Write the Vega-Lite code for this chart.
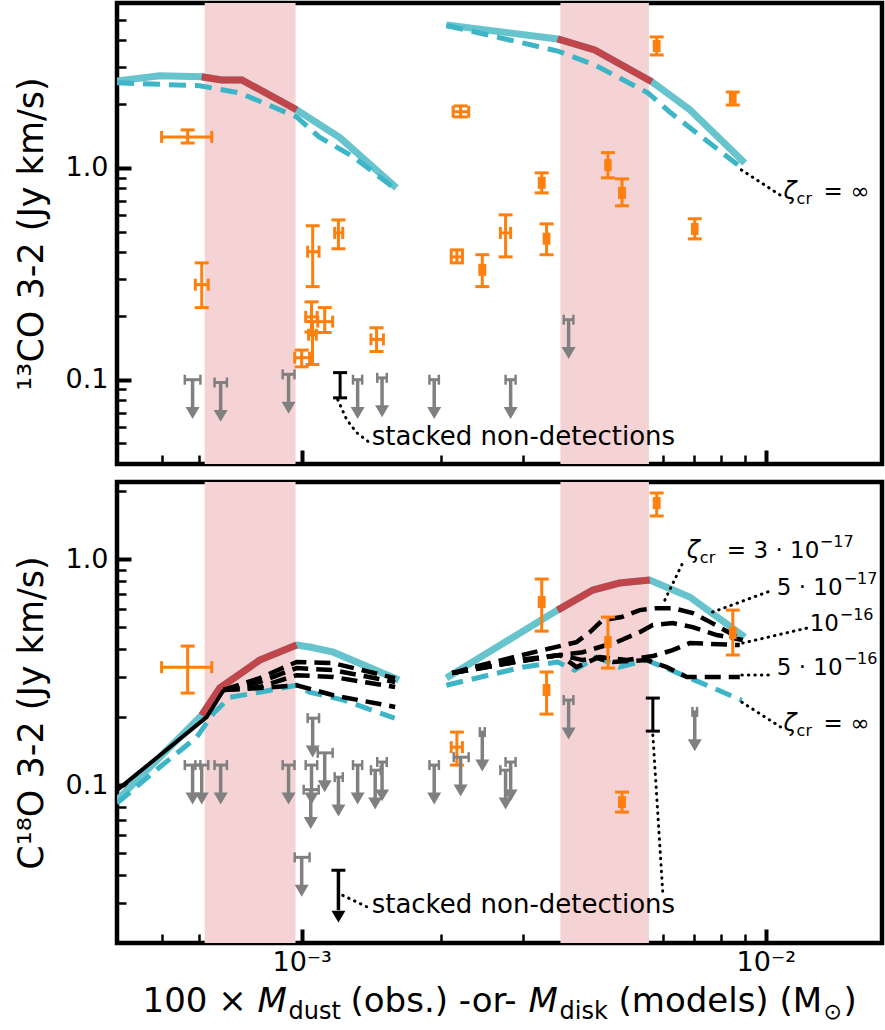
{
  "$schema": "https://vega.github.io/schema/vega-lite/v6.json",
  "padding": {"left": 11, "top": 0, "right": 0, "bottom": 4},
  "background": "white",
  "config": {
    "view": {"stroke": "black", "strokeWidth": 4.5},
    "font": "DejaVu Sans",
    "axis": {"domain": false, "grid": false, "tickColor": "black", "labelColor": "black", "labelFont": "DejaVu Sans", "labelFontSize": 27, "titleFont": "DejaVu Sans", "titleFontSize": 35, "titleFontWeight": "normal", "titleColor": "black", "labelOverlap": false, "labelFlush": false}
  },
  "spacing": 10,
  "datasets": {
    "bands": [{"x": 0.000618, "x2": 0.00097}, {"x": 0.00361, "x2": 0.0056}],
    "solid": [
      {"p": "t", "s": "L", "x": 0.0004, "y": 2.57}, {"p": "t", "s": "L", "x": 0.000494, "y": 2.72}, {"p": "t", "s": "L", "x": 0.000609, "y": 2.69}, {"p": "t", "s": "L", "x": 0.000672, "y": 2.6}, {"p": "t", "s": "L", "x": 0.000743, "y": 2.6}, {"p": "t", "s": "L", "x": 0.000975, "y": 1.88}, {"p": "t", "s": "L", "x": 0.00121, "y": 1.385}, {"p": "t", "s": "L", "x": 0.0016, "y": 0.805},
      {"p": "t", "s": "R", "x": 0.00205, "y": 4.73}, {"p": "t", "s": "R", "x": 0.00356, "y": 4.06}, {"p": "t", "s": "R", "x": 0.00428, "y": 3.6}, {"p": "t", "s": "R", "x": 0.00568, "y": 2.55}, {"p": "t", "s": "R", "x": 0.00686, "y": 1.88}, {"p": "t", "s": "R", "x": 0.00901, "y": 1.055},
      {"p": "b", "s": "L", "x": 0.0004, "y": 0.0858}, {"p": "b", "s": "L", "x": 0.000609, "y": 0.204}, {"p": "b", "s": "L", "x": 0.000666, "y": 0.269}, {"p": "b", "s": "L", "x": 0.000812, "y": 0.358}, {"p": "b", "s": "L", "x": 0.000975, "y": 0.417}, {"p": "b", "s": "L", "x": 0.00104, "y": 0.409}, {"p": "b", "s": "L", "x": 0.00117, "y": 0.388}, {"p": "b", "s": "L", "x": 0.00162, "y": 0.292},
      {"p": "b", "s": "R", "x": 0.00205, "y": 0.298}, {"p": "b", "s": "R", "x": 0.00356, "y": 0.596}, {"p": "b", "s": "R", "x": 0.00424, "y": 0.731}, {"p": "b", "s": "R", "x": 0.00484, "y": 0.785}, {"p": "b", "s": "R", "x": 0.00562, "y": 0.81}, {"p": "b", "s": "R", "x": 0.00686, "y": 0.681}, {"p": "b", "s": "R", "x": 0.00901, "y": 0.4525}
    ],
    "red": [
      {"p": "t", "s": "L", "x": 0.000609, "y": 2.69}, {"p": "t", "s": "L", "x": 0.000672, "y": 2.6}, {"p": "t", "s": "L", "x": 0.000743, "y": 2.6}, {"p": "t", "s": "L", "x": 0.000975, "y": 1.88},
      {"p": "t", "s": "R", "x": 0.00356, "y": 4.06}, {"p": "t", "s": "R", "x": 0.00428, "y": 3.6}, {"p": "t", "s": "R", "x": 0.00568, "y": 2.55},
      {"p": "b", "s": "L", "x": 0.000609, "y": 0.204}, {"p": "b", "s": "L", "x": 0.000666, "y": 0.269}, {"p": "b", "s": "L", "x": 0.000812, "y": 0.358}, {"p": "b", "s": "L", "x": 0.000975, "y": 0.417},
      {"p": "b", "s": "R", "x": 0.00356, "y": 0.596}, {"p": "b", "s": "R", "x": 0.00424, "y": 0.731}, {"p": "b", "s": "R", "x": 0.00484, "y": 0.785}, {"p": "b", "s": "R", "x": 0.00562, "y": 0.81}
    ],
    "dash": [
      {"p": "t", "s": "L", "x": 0.0004, "y": 2.52}, {"p": "t", "s": "L", "x": 0.000603, "y": 2.44}, {"p": "t", "s": "L", "x": 0.000735, "y": 2.26}, {"p": "t", "s": "L", "x": 0.000975, "y": 1.74}, {"p": "t", "s": "L", "x": 0.00109, "y": 1.4}, {"p": "t", "s": "L", "x": 0.00129, "y": 1.13}, {"p": "t", "s": "L", "x": 0.0016, "y": 0.787},
      {"p": "t", "s": "R", "x": 0.00205, "y": 4.7}, {"p": "t", "s": "R", "x": 0.00356, "y": 3.56}, {"p": "t", "s": "R", "x": 0.00428, "y": 3.06}, {"p": "t", "s": "R", "x": 0.00557, "y": 2.26}, {"p": "t", "s": "R", "x": 0.0062, "y": 1.84}, {"p": "t", "s": "R", "x": 0.00887, "y": 1.0},
      {"p": "b", "s": "L", "x": 0.0004, "y": 0.0832}, {"p": "b", "s": "L", "x": 0.000494, "y": 0.12}, {"p": "b", "s": "L", "x": 0.000594, "y": 0.163}, {"p": "b", "s": "L", "x": 0.000646, "y": 0.2085}, {"p": "b", "s": "L", "x": 0.0007, "y": 0.245}, {"p": "b", "s": "L", "x": 0.000812, "y": 0.258}, {"p": "b", "s": "L", "x": 0.000975, "y": 0.277}, {"p": "b", "s": "L", "x": 0.00104, "y": 0.258}, {"p": "b", "s": "L", "x": 0.00123, "y": 0.238}, {"p": "b", "s": "L", "x": 0.001586, "y": 0.198},
      {"p": "b", "s": "R", "x": 0.00205, "y": 0.277}, {"p": "b", "s": "R", "x": 0.00299, "y": 0.333}, {"p": "b", "s": "R", "x": 0.00356, "y": 0.351}, {"p": "b", "s": "R", "x": 0.00387, "y": 0.323}, {"p": "b", "s": "R", "x": 0.00432, "y": 0.369}, {"p": "b", "s": "R", "x": 0.00484, "y": 0.333}, {"p": "b", "s": "R", "x": 0.00554, "y": 0.358}, {"p": "b", "s": "R", "x": 0.00686, "y": 0.298}, {"p": "b", "s": "R", "x": 0.00887, "y": 0.238}
    ],
    "conv": [{"x": 0.0004, "y": 0.095}, {"x": 0.000624, "y": 0.2}, {"x": 0.000679, "y": 0.264}],
    "zeta": [
      {"z": "3e-17", "s": "L", "x": 0.000679, "y": 0.264}, {"z": "3e-17", "s": "L", "x": 0.000812, "y": 0.298}, {"z": "3e-17", "s": "L", "x": 0.000975, "y": 0.351}, {"z": "3e-17", "s": "L", "x": 0.00117, "y": 0.347}, {"z": "3e-17", "s": "L", "x": 0.00159, "y": 0.298},
      {"z": "5e-17", "s": "L", "x": 0.000679, "y": 0.264}, {"z": "5e-17", "s": "L", "x": 0.000812, "y": 0.286}, {"z": "5e-17", "s": "L", "x": 0.000975, "y": 0.33}, {"z": "5e-17", "s": "L", "x": 0.00117, "y": 0.323}, {"z": "5e-17", "s": "L", "x": 0.00159, "y": 0.286},
      {"z": "1e-16", "s": "L", "x": 0.000679, "y": 0.264}, {"z": "1e-16", "s": "L", "x": 0.000812, "y": 0.272}, {"z": "1e-16", "s": "L", "x": 0.000975, "y": 0.307}, {"z": "1e-16", "s": "L", "x": 0.00117, "y": 0.301}, {"z": "1e-16", "s": "L", "x": 0.00159, "y": 0.272},
      {"z": "5e-16", "s": "L", "x": 0.000679, "y": 0.264}, {"z": "5e-16", "s": "L", "x": 0.000812, "y": 0.269}, {"z": "5e-16", "s": "L", "x": 0.000975, "y": 0.277}, {"z": "5e-16", "s": "L", "x": 0.00117, "y": 0.25}, {"z": "5e-16", "s": "L", "x": 0.00159, "y": 0.222},
      {"z": "3e-17", "s": "R", "x": 0.00211, "y": 0.3135}, {"z": "3e-17", "s": "R", "x": 0.00234, "y": 0.333}, {"z": "3e-17", "s": "R", "x": 0.00299, "y": 0.377}, {"z": "3e-17", "s": "R", "x": 0.00391, "y": 0.43}, {"z": "3e-17", "s": "R", "x": 0.00418, "y": 0.476}, {"z": "3e-17", "s": "R", "x": 0.00445, "y": 0.538}, {"z": "3e-17", "s": "R", "x": 0.00489, "y": 0.555}, {"z": "3e-17", "s": "R", "x": 0.00535, "y": 0.596}, {"z": "3e-17", "s": "R", "x": 0.00582, "y": 0.608}, {"z": "3e-17", "s": "R", "x": 0.0063, "y": 0.608}, {"z": "3e-17", "s": "R", "x": 0.00696, "y": 0.578}, {"z": "3e-17", "s": "R", "x": 0.00746, "y": 0.538}, {"z": "3e-17", "s": "R", "x": 0.00892, "y": 0.439},
      {"z": "5e-17", "s": "R", "x": 0.00211, "y": 0.3135}, {"z": "5e-17", "s": "R", "x": 0.00299, "y": 0.36}, {"z": "5e-17", "s": "R", "x": 0.0036, "y": 0.377}, {"z": "5e-17", "s": "R", "x": 0.00403, "y": 0.388}, {"z": "5e-17", "s": "R", "x": 0.00432, "y": 0.405}, {"z": "5e-17", "s": "R", "x": 0.00477, "y": 0.43}, {"z": "5e-17", "s": "R", "x": 0.00535, "y": 0.476}, {"z": "5e-17", "s": "R", "x": 0.00571, "y": 0.512}, {"z": "5e-17", "s": "R", "x": 0.0063, "y": 0.522}, {"z": "5e-17", "s": "R", "x": 0.00696, "y": 0.501}, {"z": "5e-17", "s": "R", "x": 0.00784, "y": 0.462}, {"z": "5e-17", "s": "R", "x": 0.00892, "y": 0.439},
      {"z": "1e-16", "s": "R", "x": 0.00211, "y": 0.3135}, {"z": "1e-16", "s": "R", "x": 0.00299, "y": 0.355}, {"z": "1e-16", "s": "R", "x": 0.0036, "y": 0.377}, {"z": "1e-16", "s": "R", "x": 0.00403, "y": 0.358}, {"z": "1e-16", "s": "R", "x": 0.00439, "y": 0.369}, {"z": "1e-16", "s": "R", "x": 0.00502, "y": 0.358}, {"z": "1e-16", "s": "R", "x": 0.00571, "y": 0.373}, {"z": "1e-16", "s": "R", "x": 0.0063, "y": 0.396}, {"z": "1e-16", "s": "R", "x": 0.00686, "y": 0.426}, {"z": "1e-16", "s": "R", "x": 0.00879, "y": 0.417},
      {"z": "5e-16", "s": "R", "x": 0.00211, "y": 0.3135}, {"z": "5e-16", "s": "R", "x": 0.00299, "y": 0.355}, {"z": "5e-16", "s": "R", "x": 0.0036, "y": 0.377}, {"z": "5e-16", "s": "R", "x": 0.00391, "y": 0.333}, {"z": "5e-16", "s": "R", "x": 0.00432, "y": 0.365}, {"z": "5e-16", "s": "R", "x": 0.00468, "y": 0.351}, {"z": "5e-16", "s": "R", "x": 0.00554, "y": 0.358}, {"z": "5e-16", "s": "R", "x": 0.00612, "y": 0.333}, {"z": "5e-16", "s": "R", "x": 0.00676, "y": 0.301}, {"z": "5e-16", "s": "R", "x": 0.00879, "y": 0.301}
    ],
    "det": [
      {"p": "t", "x": 0.000568, "xlo": 0.000499, "xhi": 0.00064, "y": 1.4, "ylo": 1.31, "yhi": 1.51},
      {"p": "t", "x": 0.000609, "xlo": 0.00059, "xhi": 0.000629, "y": 0.281, "ylo": 0.219, "yhi": 0.356},
      {"p": "t", "x": 0.001056, "xlo": 0.00103, "xhi": 0.00109, "y": 0.402, "ylo": 0.275, "yhi": 0.533},
      {"p": "t", "x": 0.0012, "xlo": 0.001178, "xhi": 0.001226, "y": 0.493, "ylo": 0.415, "yhi": 0.568},
      {"p": "t", "x": 0.00105, "xlo": 0.00102, "xhi": 0.00108, "y": 0.198, "ylo": 0.168, "yhi": 0.233},
      {"p": "t", "x": 0.001055, "xlo": 0.001035, "xhi": 0.001075, "y": 0.163, "ylo": 0.118, "yhi": 0.188},
      {"p": "t", "x": 0.001121, "xlo": 0.001083, "xhi": 0.001166, "y": 0.188, "ylo": 0.167, "yhi": 0.219},
      {"p": "t", "x": 0.001, "xlo": 0.000966, "xhi": 0.00104, "y": 0.127, "ylo": 0.115, "yhi": 0.138},
      {"p": "t", "x": 0.00145, "xlo": 0.00141, "xhi": 0.0015, "y": 0.155, "ylo": 0.136, "yhi": 0.176},
      {"p": "t", "x": 0.0022, "xlo": 0.00212, "xhi": 0.00229, "y": 1.84, "ylo": 1.74, "yhi": 1.96},
      {"p": "t", "x": 0.00582, "xlo": 0.00575, "xhi": 0.00589, "y": 3.76, "ylo": 3.41, "yhi": 4.15},
      {"p": "t", "x": 0.00849, "xlo": 0.00839, "xhi": 0.00859, "y": 2.14, "ylo": 1.98, "yhi": 2.28},
      {"p": "t", "x": 0.00457, "xlo": 0.00452, "xhi": 0.00462, "y": 1.03, "ylo": 0.897, "yhi": 1.18},
      {"p": "t", "x": 0.0049, "xlo": 0.00484, "xhi": 0.00496, "y": 0.762, "ylo": 0.662, "yhi": 0.887},
      {"p": "t", "x": 0.00703, "xlo": 0.00695, "xhi": 0.00711, "y": 0.515, "ylo": 0.462, "yhi": 0.575},
      {"p": "t", "x": 0.00329, "xlo": 0.00325, "xhi": 0.00333, "y": 0.85, "ylo": 0.762, "yhi": 0.947},
      {"p": "t", "x": 0.00275, "xlo": 0.00268, "xhi": 0.00282, "y": 0.493, "ylo": 0.38, "yhi": 0.6},
      {"p": "t", "x": 0.00337, "xlo": 0.00333, "xhi": 0.00341, "y": 0.463, "ylo": 0.389, "yhi": 0.544},
      {"p": "t", "x": 0.00216, "xlo": 0.0021, "xhi": 0.00222, "y": 0.38, "ylo": 0.356, "yhi": 0.41},
      {"p": "t", "x": 0.00245, "xlo": 0.00242, "xhi": 0.00248, "y": 0.33, "ylo": 0.275, "yhi": 0.389},
      {"p": "b", "x": 0.000568, "xlo": 0.000499, "xhi": 0.00064, "y": 0.333, "ylo": 0.2557, "yhi": 0.413},
      {"p": "b", "x": 0.00329, "xlo": 0.00325, "xhi": 0.00333, "y": 0.647, "ylo": 0.481, "yhi": 0.818},
      {"p": "b", "x": 0.00337, "xlo": 0.00333, "xhi": 0.00341, "y": 0.264, "ylo": 0.2064, "yhi": 0.317},
      {"p": "b", "x": 0.00457, "xlo": 0.00452, "xhi": 0.00462, "y": 0.43, "ylo": 0.33, "yhi": 0.555},
      {"p": "b", "x": 0.00582, "xlo": 0.00575, "xhi": 0.00589, "y": 1.776, "ylo": 1.556, "yhi": 1.967},
      {"p": "b", "x": 0.00849, "xlo": 0.00839, "xhi": 0.00859, "y": 0.4715, "ylo": 0.377, "yhi": 0.596},
      {"p": "b", "x": 0.0049, "xlo": 0.00484, "xhi": 0.00496, "y": 0.0841, "ylo": 0.076, "yhi": 0.0932},
      {"p": "b", "x": 0.00216, "xlo": 0.0021, "xhi": 0.00222, "y": 0.1474, "ylo": 0.1227, "yhi": 0.1718}
    ],
    "ul": [
      {"p": "t", "x": 0.000582, "xlo": 0.00056, "xhi": 0.000605, "y": 0.1},
      {"p": "t", "x": 0.000669, "xlo": 0.000649, "xhi": 0.00069, "y": 0.097},
      {"p": "t", "x": 0.000937, "xlo": 0.00091, "xhi": 0.000965, "y": 0.106},
      {"p": "t", "x": 0.00132, "xlo": 0.00129, "xhi": 0.00135, "y": 0.1},
      {"p": "t", "x": 0.00149, "xlo": 0.001455, "xhi": 0.001525, "y": 0.102},
      {"p": "t", "x": 0.00193, "xlo": 0.001885, "xhi": 0.001975, "y": 0.1},
      {"p": "t", "x": 0.00282, "xlo": 0.00275, "xhi": 0.00289, "y": 0.1},
      {"p": "t", "x": 0.00376, "xlo": 0.00367, "xhi": 0.00385, "y": 0.192},
      {"p": "b", "x": 0.000582, "xlo": 0.00056, "xhi": 0.000605, "y": 0.1227},
      {"p": "b", "x": 0.000609, "xlo": 0.00059, "xhi": 0.000629, "y": 0.1227},
      {"p": "b", "x": 0.000669, "xlo": 0.000649, "xhi": 0.00069, "y": 0.1227},
      {"p": "b", "x": 0.000937, "xlo": 0.00091, "xhi": 0.000965, "y": 0.1227},
      {"p": "b", "x": 0.001056, "xlo": 0.00103, "xhi": 0.00109, "y": 0.198},
      {"p": "b", "x": 0.00105, "xlo": 0.00102, "xhi": 0.00108, "y": 0.1227},
      {"p": "b", "x": 0.001046, "xlo": 0.00101, "xhi": 0.001088, "y": 0.0955},
      {"p": "b", "x": 0.001121, "xlo": 0.001083, "xhi": 0.001166, "y": 0.139},
      {"p": "b", "x": 0.0012, "xlo": 0.001178, "xhi": 0.001226, "y": 0.1085},
      {"p": "b", "x": 0.00132, "xlo": 0.00129, "xhi": 0.00135, "y": 0.1227},
      {"p": "b", "x": 0.00144, "xlo": 0.00141, "xhi": 0.00148, "y": 0.1165},
      {"p": "b", "x": 0.00149, "xlo": 0.001455, "xhi": 0.001525, "y": 0.1266},
      {"p": "b", "x": 0.00193, "xlo": 0.001885, "xhi": 0.001975, "y": 0.1227},
      {"p": "b", "x": 0.0022, "xlo": 0.002126, "xhi": 0.00229, "y": 0.133},
      {"p": "b", "x": 0.00245, "xlo": 0.00242, "xhi": 0.00248, "y": 0.1717},
      {"p": "b", "x": 0.00275, "xlo": 0.00268, "xhi": 0.00282, "y": 0.1165},
      {"p": "b", "x": 0.00282, "xlo": 0.00275, "xhi": 0.00289, "y": 0.1266},
      {"p": "b", "x": 0.00376, "xlo": 0.00367, "xhi": 0.00385, "y": 0.238},
      {"p": "b", "x": 0.00703, "xlo": 0.00695, "xhi": 0.00711, "y": 0.211},
      {"p": "b", "x": 0.001, "xlo": 0.000966, "xhi": 0.00104, "y": 0.0479}
    ],
    "stk": [{"p": "t", "x": 0.00121, "ylo": 0.0821, "yhi": 0.108}, {"p": "b", "x": 0.00571, "ylo": 0.1735, "yhi": 0.243}],
    "stkul": [{"x": 0.0012, "y": 0.042}],
    "lead": [
      {"p": "t", "id": "stk", "x": 0.001196, "y": 0.0805}, {"p": "t", "id": "stk", "x": 0.00125, "y": 0.0648}, {"p": "t", "id": "stk", "x": 0.001314, "y": 0.0562}, {"p": "t", "id": "stk", "x": 0.0014, "y": 0.0505},
      {"p": "t", "id": "inf", "x": 0.00886, "y": 0.978}, {"p": "t", "id": "inf", "x": 0.01088, "y": 0.73},
      {"p": "b", "id": "z1", "x": 0.00606, "y": 0.66}, {"p": "b", "id": "z1", "x": 0.00662, "y": 0.963},
      {"p": "b", "id": "z2", "x": 0.00768, "y": 0.584}, {"p": "b", "id": "z2", "x": 0.010355, "y": 0.731},
      {"p": "b", "id": "z3", "x": 0.00892, "y": 0.426}, {"p": "b", "id": "z3", "x": 0.012266, "y": 0.496},
      {"p": "b", "id": "z4", "x": 0.00888, "y": 0.3075}, {"p": "b", "id": "z4", "x": 0.010355, "y": 0.3075},
      {"p": "b", "id": "inf", "x": 0.00888, "y": 0.233}, {"p": "b", "id": "inf", "x": 0.01076, "y": 0.181},
      {"p": "b", "id": "stkR", "x": 0.00571, "y": 0.1667}, {"p": "b", "id": "stkR", "x": 0.006, "y": 0.0331},
      {"p": "b", "id": "stkL", "x": 0.001226, "y": 0.0325}, {"p": "b", "id": "stkL", "x": 0.001388, "y": 0.0288}
    ],
    "txt": [{"p": "t", "x": 0.001415, "y": 0.0539, "text": "stacked non-detections"}, {"p": "b", "x": 0.001415, "y": 0.0294, "text": "stacked non-detections"}],
    "mlab": [{"x": 0.010557, "y": 0.746, "base": "5 · 10", "sup": "−17"}, {"x": 0.012437, "y": 0.517, "base": "10", "sup": "−16"}, {"x": 0.010557, "y": 0.33, "base": "5 · 10", "sup": "−16"}],
    "zlab": [{"p": "t", "x": 0.010925, "y": 0.77, "rest": "= ∞", "sup": ""}, {"p": "b", "x": 0.00676, "y": 1.088, "rest": "= 3 · 10", "sup": "−17"}, {"p": "b", "x": 0.010925, "y": 0.186, "rest": "= ∞", "sup": ""}]
  },
  "vconcat": [
    {
      "width": 765,
      "height": 461,
      "resolve": {"axis": {"x": "independent", "y": "independent"}},
      "layer": [
        {
          "layer": [
            {"data": {"name": "bands"}, "mark": {"type": "rect", "color": "#f5d3d4"},
             "encoding": {
               "x": {"field": "x", "type": "quantitative", "scale": {"type": "log", "domain": [0.0004, 0.0178], "nice": false}, "axis": null},
               "x2": {"field": "x2"}}},
            {"data": {"name": "solid"}, "transform": [{"filter": "datum.p == 't'"}], "mark": {"type": "line", "color": "#67c4cd", "strokeWidth": 7, "clip": true},
             "encoding": {
               "x": {"field": "x", "type": "quantitative", "scale": {"type": "log", "domain": [0.0004, 0.0178], "nice": false}, "axis": null},
               "y": {"field": "y", "type": "quantitative", "scale": {"type": "log", "domain": [0.04, 6], "nice": false}, "axis": null},
               "detail": {"field": "s"}}},
            {"data": {"name": "red"}, "transform": [{"filter": "datum.p == 't'"}], "mark": {"type": "line", "color": "#c0464b", "strokeWidth": 7, "clip": true},
             "encoding": {"x": {"field": "x", "type": "quantitative", "scale": {"type": "log", "domain": [0.0004, 0.0178], "nice": false}, "axis": null},
                          "y": {"field": "y", "type": "quantitative", "scale": {"type": "log", "domain": [0.04, 6], "nice": false}, "axis": null}, "detail": {"field": "s"}}},
            {"data": {"name": "dash"}, "transform": [{"filter": "datum.p == 't'"}], "mark": {"type": "line", "color": "#3db5c6", "strokeWidth": 5, "strokeDash": [17, 9], "clip": true},
             "encoding": {"x": {"field": "x", "type": "quantitative", "scale": {"type": "log", "domain": [0.0004, 0.0178], "nice": false}, "axis": null},
                          "y": {"field": "y", "type": "quantitative", "scale": {"type": "log", "domain": [0.04, 6], "nice": false}, "axis": null}, "detail": {"field": "s"}}},
            {"data": {"name": "det"}, "transform": [{"filter": "datum.p == 't'"}],
             "layer": [
               {"mark": {"type": "rule", "color": "#ff7f0e", "strokeWidth": 3},
                "encoding": {"x": {"field": "x", "type": "quantitative", "scale": {"type": "log", "domain": [0.0004, 0.0178], "nice": false}, "axis": null},
                             "y": {"field": "ylo", "type": "quantitative", "scale": {"type": "log", "domain": [0.04, 6], "nice": false}, "axis": null}, "y2": {"field": "yhi"}}},
               {"mark": {"type": "tick", "orient": "horizontal", "color": "#ff7f0e", "size": 14, "thickness": 3, "opacity": 1},
                "encoding": {"x": {"field": "x", "type": "quantitative", "scale": {"type": "log", "domain": [0.0004, 0.0178], "nice": false}, "axis": null},
                             "y": {"field": "ylo", "type": "quantitative", "scale": {"type": "log", "domain": [0.04, 6], "nice": false}, "axis": null}}},
               {"mark": {"type": "tick", "orient": "horizontal", "color": "#ff7f0e", "size": 14, "thickness": 3, "opacity": 1},
                "encoding": {"x": {"field": "x", "type": "quantitative", "scale": {"type": "log", "domain": [0.0004, 0.0178], "nice": false}, "axis": null},
                             "y": {"field": "yhi", "type": "quantitative", "scale": {"type": "log", "domain": [0.04, 6], "nice": false}, "axis": null}}},
               {"mark": {"type": "rule", "color": "#ff7f0e", "strokeWidth": 3},
                "encoding": {"x": {"field": "xlo", "type": "quantitative", "scale": {"type": "log", "domain": [0.0004, 0.0178], "nice": false}, "axis": null}, "x2": {"field": "xhi"},
                             "y": {"field": "y", "type": "quantitative", "scale": {"type": "log", "domain": [0.04, 6], "nice": false}, "axis": null}}},
               {"mark": {"type": "tick", "orient": "vertical", "color": "#ff7f0e", "size": 12, "thickness": 3, "opacity": 1},
                "encoding": {"x": {"field": "xlo", "type": "quantitative", "scale": {"type": "log", "domain": [0.0004, 0.0178], "nice": false}, "axis": null},
                             "y": {"field": "y", "type": "quantitative", "scale": {"type": "log", "domain": [0.04, 6], "nice": false}, "axis": null}}},
               {"mark": {"type": "tick", "orient": "vertical", "color": "#ff7f0e", "size": 12, "thickness": 3, "opacity": 1},
                "encoding": {"x": {"field": "xhi", "type": "quantitative", "scale": {"type": "log", "domain": [0.0004, 0.0178], "nice": false}, "axis": null},
                             "y": {"field": "y", "type": "quantitative", "scale": {"type": "log", "domain": [0.04, 6], "nice": false}, "axis": null}}}
             ]},
            {"data": {"name": "ul"}, "transform": [{"filter": "datum.p == 't'"}],
             "layer": [
               {"mark": {"type": "rule", "color": "#808080", "strokeWidth": 3},
                "encoding": {"x": {"field": "xlo", "type": "quantitative", "scale": {"type": "log", "domain": [0.0004, 0.0178], "nice": false}, "axis": null}, "x2": {"field": "xhi"},
                             "y": {"field": "y", "type": "quantitative", "scale": {"type": "log", "domain": [0.04, 6], "nice": false}, "axis": null}}},
               {"mark": {"type": "tick", "orient": "vertical", "color": "#808080", "size": 10, "thickness": 2.5, "opacity": 1},
                "encoding": {"x": {"field": "xlo", "type": "quantitative", "scale": {"type": "log", "domain": [0.0004, 0.0178], "nice": false}, "axis": null},
                             "y": {"field": "y", "type": "quantitative", "scale": {"type": "log", "domain": [0.04, 6], "nice": false}, "axis": null}}},
               {"mark": {"type": "tick", "orient": "vertical", "color": "#808080", "size": 10, "thickness": 2.5, "opacity": 1},
                "encoding": {"x": {"field": "xhi", "type": "quantitative", "scale": {"type": "log", "domain": [0.0004, 0.0178], "nice": false}, "axis": null},
                             "y": {"field": "y", "type": "quantitative", "scale": {"type": "log", "domain": [0.04, 6], "nice": false}, "axis": null}}},
               {"mark": {"type": "rule", "color": "#808080", "strokeWidth": 3.5, "y2Offset": 28},
                "encoding": {"x": {"field": "x", "type": "quantitative", "scale": {"type": "log", "domain": [0.0004, 0.0178], "nice": false}, "axis": null},
                             "y": {"field": "y", "type": "quantitative", "scale": {"type": "log", "domain": [0.04, 6], "nice": false}, "axis": null}, "y2": {"field": "y"}}},
               {"mark": {"type": "point", "shape": "M-1,-0.8L1,-0.8L0,0.9Z", "filled": true, "color": "#808080", "size": 196, "opacity": 1, "yOffset": 33},
                "encoding": {"x": {"field": "x", "type": "quantitative", "scale": {"type": "log", "domain": [0.0004, 0.0178], "nice": false}, "axis": null},
                             "y": {"field": "y", "type": "quantitative", "scale": {"type": "log", "domain": [0.04, 6], "nice": false}, "axis": null}}}
             ]},
            {"data": {"name": "stk"}, "transform": [{"filter": "datum.p == 't'"}],
             "layer": [
               {"mark": {"type": "rule", "color": "black", "strokeWidth": 3},
                "encoding": {"x": {"field": "x", "type": "quantitative", "scale": {"type": "log", "domain": [0.0004, 0.0178], "nice": false}, "axis": null},
                             "y": {"field": "ylo", "type": "quantitative", "scale": {"type": "log", "domain": [0.04, 6], "nice": false}, "axis": null}, "y2": {"field": "yhi"}}},
               {"mark": {"type": "tick", "orient": "horizontal", "color": "black", "size": 14, "thickness": 3, "opacity": 1},
                "encoding": {"x": {"field": "x", "type": "quantitative", "scale": {"type": "log", "domain": [0.0004, 0.0178], "nice": false}, "axis": null},
                             "y": {"field": "ylo", "type": "quantitative", "scale": {"type": "log", "domain": [0.04, 6], "nice": false}, "axis": null}}},
               {"mark": {"type": "tick", "orient": "horizontal", "color": "black", "size": 14, "thickness": 3, "opacity": 1},
                "encoding": {"x": {"field": "x", "type": "quantitative", "scale": {"type": "log", "domain": [0.0004, 0.0178], "nice": false}, "axis": null},
                             "y": {"field": "yhi", "type": "quantitative", "scale": {"type": "log", "domain": [0.04, 6], "nice": false}, "axis": null}}}
             ]},
            {"data": {"name": "lead"}, "transform": [{"filter": "datum.p == 't'"}], "mark": {"type": "line", "color": "black", "strokeWidth": 3, "strokeDash": [0.5, 6], "strokeCap": "round"},
             "encoding": {"x": {"field": "x", "type": "quantitative", "scale": {"type": "log", "domain": [0.0004, 0.0178], "nice": false}, "axis": null},
                          "y": {"field": "y", "type": "quantitative", "scale": {"type": "log", "domain": [0.04, 6], "nice": false}, "axis": null}, "detail": {"field": "id"}}},
            {"data": {"name": "txt"}, "transform": [{"filter": "datum.p == 't'"}], "mark": {"type": "text", "align": "left", "baseline": "middle", "fontSize": 26, "font": "DejaVu Sans", "color": "black"},
             "encoding": {"x": {"field": "x", "type": "quantitative", "scale": {"type": "log", "domain": [0.0004, 0.0178], "nice": false}, "axis": null},
                          "y": {"field": "y", "type": "quantitative", "scale": {"type": "log", "domain": [0.04, 6], "nice": false}, "axis": null}, "text": {"field": "text"}}},
            {"data": {"name": "zlab"}, "transform": [{"filter": "datum.p == 't'"}],
             "encoding": {"x": {"field": "x", "type": "quantitative", "scale": {"type": "log", "domain": [0.0004, 0.0178], "nice": false}, "axis": null},
                          "y": {"field": "y", "type": "quantitative", "scale": {"type": "log", "domain": [0.04, 6], "nice": false}, "axis": null}},
             "layer": [
               {"mark": {"type": "text", "align": "left", "baseline": "middle", "fontSize": 24, "fontStyle": "italic", "font": "DejaVu Sans", "color": "black", "text": "ζ"}},
               {"mark": {"type": "text", "align": "left", "baseline": "middle", "fontSize": 16, "font": "DejaVu Sans", "color": "black", "text": "cr", "dx": 13, "dy": 7}},
               {"mark": {"type": "text", "align": "left", "baseline": "middle", "fontSize": 23, "font": "DejaVu Sans", "color": "black", "dx": 40}, "encoding": {"text": {"field": "rest"}}}
             ]}
          ]
        },
        {"data": {"values": [{}]}, "mark": {"type": "point", "opacity": 0},
         "encoding": {
           "x": {"datum": 0.001, "type": "quantitative", "scale": {"type": "log", "domain": [0.0004, 0.0178], "nice": false},
                 "axis": {"orient": "bottom", "values": [0.001, 0.01], "labels": false, "title": null, "offset": -14, "tickSize": 14, "tickWidth": 4}},
           "y": {"datum": 1, "type": "quantitative", "scale": {"type": "log", "domain": [0.04, 6], "nice": false},
                 "axis": {"orient": "left", "values": [0.1, 1], "labelExpr": "datum.value == 1 ? '1.0' : '0.1'", "labelPadding": 9, "offset": -14, "tickSize": 14, "tickWidth": 4,
                          "title": "¹³CO 3-2 (Jy km/s)", "titlePadding": 16}}}},
        {"data": {"values": [{}]}, "mark": {"type": "point", "opacity": 0},
         "encoding": {
           "x": {"datum": 0.001, "type": "quantitative", "scale": {"type": "log", "domain": [0.0004, 0.0178], "nice": false},
                 "axis": {"orient": "bottom", "values": [0.0005, 0.0006, 0.0007, 0.0008, 0.0009, 0.002, 0.003, 0.004, 0.005, 0.006, 0.007, 0.008, 0.009], "labels": false, "title": null, "offset": -9, "tickSize": 9, "tickWidth": 2.5}},
           "y": {"datum": 1, "type": "quantitative", "scale": {"type": "log", "domain": [0.04, 6], "nice": false},
                 "axis": {"orient": "left", "values": [0.05, 0.06, 0.07, 0.08, 0.09, 0.2, 0.3, 0.4, 0.5, 0.6, 0.7, 0.8, 0.9, 2, 3, 4, 5], "labels": false, "title": null, "offset": -9, "tickSize": 9, "tickWidth": 2.5}}}}
      ]
    },
    {
      "width": 765,
      "height": 461,
      "resolve": {"axis": {"x": "independent", "y": "independent"}},
      "layer": [
        {
          "layer": [
            {"data": {"name": "bands"}, "mark": {"type": "rect", "color": "#f5d3d4"},
             "encoding": {
               "x": {"field": "x", "type": "quantitative", "scale": {"type": "log", "domain": [0.0004, 0.0178], "nice": false}, "axis": null},
               "x2": {"field": "x2"}}},
            {"data": {"name": "solid"}, "transform": [{"filter": "datum.p == 'b'"}], "mark": {"type": "line", "color": "#67c4cd", "strokeWidth": 7, "clip": true},
             "encoding": {
               "x": {"field": "x", "type": "quantitative", "scale": {"type": "log", "domain": [0.0004, 0.0178], "nice": false}, "axis": null},
               "y": {"field": "y", "type": "quantitative", "scale": {"type": "log", "domain": [0.02, 2.2], "nice": false}, "axis": null},
               "detail": {"field": "s"}}},
            {"data": {"name": "red"}, "transform": [{"filter": "datum.p == 'b'"}], "mark": {"type": "line", "color": "#c0464b", "strokeWidth": 7, "clip": true},
             "encoding": {"x": {"field": "x", "type": "quantitative", "scale": {"type": "log", "domain": [0.0004, 0.0178], "nice": false}, "axis": null},
                          "y": {"field": "y", "type": "quantitative", "scale": {"type": "log", "domain": [0.02, 2.2], "nice": false}, "axis": null}, "detail": {"field": "s"}}},
            {"data": {"name": "dash"}, "transform": [{"filter": "datum.p == 'b'"}], "mark": {"type": "line", "color": "#3db5c6", "strokeWidth": 5, "strokeDash": [17, 9], "clip": true},
             "encoding": {"x": {"field": "x", "type": "quantitative", "scale": {"type": "log", "domain": [0.0004, 0.0178], "nice": false}, "axis": null},
                          "y": {"field": "y", "type": "quantitative", "scale": {"type": "log", "domain": [0.02, 2.2], "nice": false}, "axis": null}, "detail": {"field": "s"}}},
            {"data": {"name": "conv"}, "mark": {"type": "line", "color": "black", "strokeWidth": 4, "clip": true},
             "encoding": {"x": {"field": "x", "type": "quantitative", "scale": {"type": "log", "domain": [0.0004, 0.0178], "nice": false}, "axis": null},
                          "y": {"field": "y", "type": "quantitative", "scale": {"type": "log", "domain": [0.02, 2.2], "nice": false}, "axis": null}}},
            {"data": {"name": "zeta"}, "mark": {"type": "line", "color": "black", "strokeWidth": 4.5, "strokeDash": [16, 8], "clip": true},
             "encoding": {"x": {"field": "x", "type": "quantitative", "scale": {"type": "log", "domain": [0.0004, 0.0178], "nice": false}, "axis": null},
                          "y": {"field": "y", "type": "quantitative", "scale": {"type": "log", "domain": [0.02, 2.2], "nice": false}, "axis": null}, "detail": [{"field": "z"}, {"field": "s"}]}},
            {"data": {"name": "det"}, "transform": [{"filter": "datum.p == 'b'"}],
             "layer": [
               {"mark": {"type": "rule", "color": "#ff7f0e", "strokeWidth": 3},
                "encoding": {"x": {"field": "x", "type": "quantitative", "scale": {"type": "log", "domain": [0.0004, 0.0178], "nice": false}, "axis": null},
                             "y": {"field": "ylo", "type": "quantitative", "scale": {"type": "log", "domain": [0.02, 2.2], "nice": false}, "axis": null}, "y2": {"field": "yhi"}}},
               {"mark": {"type": "tick", "orient": "horizontal", "color": "#ff7f0e", "size": 14, "thickness": 3, "opacity": 1},
                "encoding": {"x": {"field": "x", "type": "quantitative", "scale": {"type": "log", "domain": [0.0004, 0.0178], "nice": false}, "axis": null},
                             "y": {"field": "ylo", "type": "quantitative", "scale": {"type": "log", "domain": [0.02, 2.2], "nice": false}, "axis": null}}},
               {"mark": {"type": "tick", "orient": "horizontal", "color": "#ff7f0e", "size": 14, "thickness": 3, "opacity": 1},
                "encoding": {"x": {"field": "x", "type": "quantitative", "scale": {"type": "log", "domain": [0.0004, 0.0178], "nice": false}, "axis": null},
                             "y": {"field": "yhi", "type": "quantitative", "scale": {"type": "log", "domain": [0.02, 2.2], "nice": false}, "axis": null}}},
               {"mark": {"type": "rule", "color": "#ff7f0e", "strokeWidth": 3},
                "encoding": {"x": {"field": "xlo", "type": "quantitative", "scale": {"type": "log", "domain": [0.0004, 0.0178], "nice": false}, "axis": null}, "x2": {"field": "xhi"},
                             "y": {"field": "y", "type": "quantitative", "scale": {"type": "log", "domain": [0.02, 2.2], "nice": false}, "axis": null}}},
               {"mark": {"type": "tick", "orient": "vertical", "color": "#ff7f0e", "size": 12, "thickness": 3, "opacity": 1},
                "encoding": {"x": {"field": "xlo", "type": "quantitative", "scale": {"type": "log", "domain": [0.0004, 0.0178], "nice": false}, "axis": null},
                             "y": {"field": "y", "type": "quantitative", "scale": {"type": "log", "domain": [0.02, 2.2], "nice": false}, "axis": null}}},
               {"mark": {"type": "tick", "orient": "vertical", "color": "#ff7f0e", "size": 12, "thickness": 3, "opacity": 1},
                "encoding": {"x": {"field": "xhi", "type": "quantitative", "scale": {"type": "log", "domain": [0.0004, 0.0178], "nice": false}, "axis": null},
                             "y": {"field": "y", "type": "quantitative", "scale": {"type": "log", "domain": [0.02, 2.2], "nice": false}, "axis": null}}}
             ]},
            {"data": {"name": "ul"}, "transform": [{"filter": "datum.p == 'b'"}],
             "layer": [
               {"mark": {"type": "rule", "color": "#808080", "strokeWidth": 3},
                "encoding": {"x": {"field": "xlo", "type": "quantitative", "scale": {"type": "log", "domain": [0.0004, 0.0178], "nice": false}, "axis": null}, "x2": {"field": "xhi"},
                             "y": {"field": "y", "type": "quantitative", "scale": {"type": "log", "domain": [0.02, 2.2], "nice": false}, "axis": null}}},
               {"mark": {"type": "tick", "orient": "vertical", "color": "#808080", "size": 10, "thickness": 2.5, "opacity": 1},
                "encoding": {"x": {"field": "xlo", "type": "quantitative", "scale": {"type": "log", "domain": [0.0004, 0.0178], "nice": false}, "axis": null},
                             "y": {"field": "y", "type": "quantitative", "scale": {"type": "log", "domain": [0.02, 2.2], "nice": false}, "axis": null}}},
               {"mark": {"type": "tick", "orient": "vertical", "color": "#808080", "size": 10, "thickness": 2.5, "opacity": 1},
                "encoding": {"x": {"field": "xhi", "type": "quantitative", "scale": {"type": "log", "domain": [0.0004, 0.0178], "nice": false}, "axis": null},
                             "y": {"field": "y", "type": "quantitative", "scale": {"type": "log", "domain": [0.02, 2.2], "nice": false}, "axis": null}}},
               {"mark": {"type": "rule", "color": "#808080", "strokeWidth": 3.5, "y2Offset": 28},
                "encoding": {"x": {"field": "x", "type": "quantitative", "scale": {"type": "log", "domain": [0.0004, 0.0178], "nice": false}, "axis": null},
                             "y": {"field": "y", "type": "quantitative", "scale": {"type": "log", "domain": [0.02, 2.2], "nice": false}, "axis": null}, "y2": {"field": "y"}}},
               {"mark": {"type": "point", "shape": "M-1,-0.8L1,-0.8L0,0.9Z", "filled": true, "color": "#808080", "size": 196, "opacity": 1, "yOffset": 33},
                "encoding": {"x": {"field": "x", "type": "quantitative", "scale": {"type": "log", "domain": [0.0004, 0.0178], "nice": false}, "axis": null},
                             "y": {"field": "y", "type": "quantitative", "scale": {"type": "log", "domain": [0.02, 2.2], "nice": false}, "axis": null}}}
             ]},
            {"data": {"name": "stk"}, "transform": [{"filter": "datum.p == 'b'"}],
             "layer": [
               {"mark": {"type": "rule", "color": "black", "strokeWidth": 3},
                "encoding": {"x": {"field": "x", "type": "quantitative", "scale": {"type": "log", "domain": [0.0004, 0.0178], "nice": false}, "axis": null},
                             "y": {"field": "ylo", "type": "quantitative", "scale": {"type": "log", "domain": [0.02, 2.2], "nice": false}, "axis": null}, "y2": {"field": "yhi"}}},
               {"mark": {"type": "tick", "orient": "horizontal", "color": "black", "size": 14, "thickness": 3, "opacity": 1},
                "encoding": {"x": {"field": "x", "type": "quantitative", "scale": {"type": "log", "domain": [0.0004, 0.0178], "nice": false}, "axis": null},
                             "y": {"field": "ylo", "type": "quantitative", "scale": {"type": "log", "domain": [0.02, 2.2], "nice": false}, "axis": null}}},
               {"mark": {"type": "tick", "orient": "horizontal", "color": "black", "size": 14, "thickness": 3, "opacity": 1},
                "encoding": {"x": {"field": "x", "type": "quantitative", "scale": {"type": "log", "domain": [0.0004, 0.0178], "nice": false}, "axis": null},
                             "y": {"field": "yhi", "type": "quantitative", "scale": {"type": "log", "domain": [0.02, 2.2], "nice": false}, "axis": null}}}
             ]},
            {"data": {"name": "stkul"},
             "encoding": {"x": {"field": "x", "type": "quantitative", "scale": {"type": "log", "domain": [0.0004, 0.0178], "nice": false}, "axis": null},
                          "y": {"field": "y", "type": "quantitative", "scale": {"type": "log", "domain": [0.02, 2.2], "nice": false}, "axis": null}},
             "layer": [
               {"mark": {"type": "tick", "orient": "horizontal", "color": "black", "size": 14, "thickness": 3, "opacity": 1}},
               {"mark": {"type": "rule", "color": "black", "strokeWidth": 3.5, "y2Offset": 40}, "encoding": {"y2": {"field": "y"}}},
               {"mark": {"type": "point", "shape": "M-1,-0.8L1,-0.8L0,0.9Z", "filled": true, "color": "black", "size": 196, "opacity": 1, "yOffset": 46}}
             ]},
            {"data": {"name": "lead"}, "transform": [{"filter": "datum.p == 'b'"}], "mark": {"type": "line", "color": "black", "strokeWidth": 3, "strokeDash": [0.5, 6], "strokeCap": "round"},
             "encoding": {"x": {"field": "x", "type": "quantitative", "scale": {"type": "log", "domain": [0.0004, 0.0178], "nice": false}, "axis": null},
                          "y": {"field": "y", "type": "quantitative", "scale": {"type": "log", "domain": [0.02, 2.2], "nice": false}, "axis": null}, "detail": {"field": "id"}}},
            {"data": {"name": "txt"}, "transform": [{"filter": "datum.p == 'b'"}], "mark": {"type": "text", "align": "left", "baseline": "middle", "fontSize": 26, "font": "DejaVu Sans", "color": "black"},
             "encoding": {"x": {"field": "x", "type": "quantitative", "scale": {"type": "log", "domain": [0.0004, 0.0178], "nice": false}, "axis": null},
                          "y": {"field": "y", "type": "quantitative", "scale": {"type": "log", "domain": [0.02, 2.2], "nice": false}, "axis": null}, "text": {"field": "text"}}},
            {"data": {"name": "mlab"},
             "encoding": {"x": {"field": "x", "type": "quantitative", "scale": {"type": "log", "domain": [0.0004, 0.0178], "nice": false}, "axis": null},
                          "y": {"field": "y", "type": "quantitative", "scale": {"type": "log", "domain": [0.02, 2.2], "nice": false}, "axis": null}},
             "layer": [
               {"mark": {"type": "text", "align": "left", "baseline": "middle", "fontSize": 23, "font": "DejaVu Sans", "color": "black"}, "encoding": {"text": {"field": "base"}}},
               {"transform": [{"filter": "datum.base == '10'"}], "mark": {"type": "text", "align": "left", "baseline": "middle", "fontSize": 16, "font": "DejaVu Sans", "color": "black", "dx": 30, "dy": -9}, "encoding": {"text": {"field": "sup"}}},
               {"transform": [{"filter": "datum.base != '10'"}], "mark": {"type": "text", "align": "left", "baseline": "middle", "fontSize": 16, "font": "DejaVu Sans", "color": "black", "dx": 67, "dy": -9}, "encoding": {"text": {"field": "sup"}}}
             ]},
            {"data": {"name": "zlab"}, "transform": [{"filter": "datum.p == 'b'"}],
             "encoding": {"x": {"field": "x", "type": "quantitative", "scale": {"type": "log", "domain": [0.0004, 0.0178], "nice": false}, "axis": null},
                          "y": {"field": "y", "type": "quantitative", "scale": {"type": "log", "domain": [0.02, 2.2], "nice": false}, "axis": null}},
             "layer": [
               {"mark": {"type": "text", "align": "left", "baseline": "middle", "fontSize": 24, "fontStyle": "italic", "font": "DejaVu Sans", "color": "black", "text": "ζ"}},
               {"mark": {"type": "text", "align": "left", "baseline": "middle", "fontSize": 16, "font": "DejaVu Sans", "color": "black", "text": "cr", "dx": 13, "dy": 7}},
               {"mark": {"type": "text", "align": "left", "baseline": "middle", "fontSize": 23, "font": "DejaVu Sans", "color": "black", "dx": 40}, "encoding": {"text": {"field": "rest"}}},
               {"mark": {"type": "text", "align": "left", "baseline": "middle", "fontSize": 16, "font": "DejaVu Sans", "color": "black", "dx": 133, "dy": -9}, "encoding": {"text": {"field": "sup"}}}
             ]},
            {"data": {"values": [{}]},
             "encoding": {"x": {"datum": 0.000454, "type": "quantitative", "scale": {"type": "log", "domain": [0.0004, 0.0178], "nice": false}, "axis": null},
                          "y": {"datum": 0.0099, "type": "quantitative", "scale": {"type": "log", "domain": [0.02, 2.2], "nice": false}, "axis": null}},
             "layer": [
               {"mark": {"type": "text", "align": "left", "baseline": "alphabetic", "fontSize": 34, "font": "DejaVu Sans", "color": "black", "text": "100 ×", "dx": 0}},
               {"mark": {"type": "text", "align": "left", "baseline": "alphabetic", "fontSize": 34, "fontStyle": "italic", "font": "DejaVu Sans", "color": "black", "text": "M", "dx": 115}},
               {"mark": {"type": "text", "align": "left", "baseline": "alphabetic", "fontSize": 24, "font": "DejaVu Sans", "color": "black", "text": "dust", "dx": 146, "dy": 7}},
               {"mark": {"type": "text", "align": "left", "baseline": "alphabetic", "fontSize": 34, "font": "DejaVu Sans", "color": "black", "text": "(obs.) -or-", "dx": 208}},
               {"mark": {"type": "text", "align": "left", "baseline": "alphabetic", "fontSize": 34, "fontStyle": "italic", "font": "DejaVu Sans", "color": "black", "text": "M", "dx": 386}},
               {"mark": {"type": "text", "align": "left", "baseline": "alphabetic", "fontSize": 24, "font": "DejaVu Sans", "color": "black", "text": "disk", "dx": 417, "dy": 7}},
               {"mark": {"type": "text", "align": "left", "baseline": "alphabetic", "fontSize": 34, "font": "DejaVu Sans", "color": "black", "text": "(models) (M", "dx": 476}},
               {"mark": {"type": "text", "align": "left", "baseline": "alphabetic", "fontSize": 22, "font": "DejaVu Sans", "color": "black", "text": "⊙", "dx": 681, "dy": 7}},
               {"mark": {"type": "text", "align": "left", "baseline": "alphabetic", "fontSize": 34, "font": "DejaVu Sans", "color": "black", "text": ")", "dx": 701}}
             ]}
          ]
        },
        {"data": {"values": [{}]}, "mark": {"type": "point", "opacity": 0},
         "encoding": {
           "x": {"datum": 0.001, "type": "quantitative", "scale": {"type": "log", "domain": [0.0004, 0.0178], "nice": false},
                 "axis": {"orient": "bottom", "values": [0.001, 0.01], "title": null, "labelExpr": "datum.value == 0.001 ? '10⁻³' : '10⁻²'", "labelPadding": 6, "offset": -14, "tickSize": 14, "tickWidth": 4}},
           "y": {"datum": 1, "type": "quantitative", "scale": {"type": "log", "domain": [0.02, 2.2], "nice": false},
                 "axis": {"orient": "left", "values": [0.1, 1], "labelExpr": "datum.value == 1 ? '1.0' : '0.1'", "labelPadding": 9, "offset": -14, "tickSize": 14, "tickWidth": 4,
                          "title": "C¹⁸O 3-2 (Jy km/s)", "titlePadding": 16}}}},
        {"data": {"values": [{}]}, "mark": {"type": "point", "opacity": 0},
         "encoding": {
           "x": {"datum": 0.001, "type": "quantitative", "scale": {"type": "log", "domain": [0.0004, 0.0178], "nice": false},
                 "axis": {"orient": "bottom", "values": [0.0005, 0.0006, 0.0007, 0.0008, 0.0009, 0.002, 0.003, 0.004, 0.005, 0.006, 0.007, 0.008, 0.009], "labels": false, "title": null, "offset": -9, "tickSize": 9, "tickWidth": 2.5}},
           "y": {"datum": 1, "type": "quantitative", "scale": {"type": "log", "domain": [0.02, 2.2], "nice": false},
                 "axis": {"orient": "left", "values": [0.03, 0.04, 0.05, 0.06, 0.07, 0.08, 0.09, 0.2, 0.3, 0.4, 0.5, 0.6, 0.7, 0.8, 0.9, 2], "labels": false, "title": null, "offset": -9, "tickSize": 9, "tickWidth": 2.5}}}}
      ]
    }
  ]
}
